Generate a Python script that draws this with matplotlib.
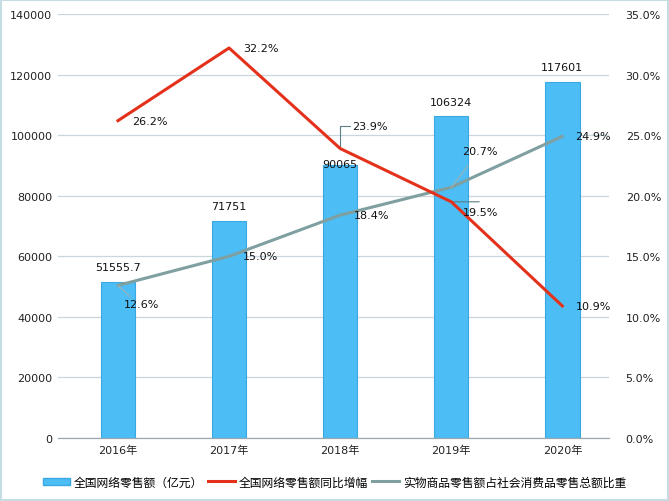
import matplotlib
matplotlib.use("Agg")
import matplotlib.pyplot as plt
from matplotlib.patches import Rectangle
from matplotlib.ticker import FuncFormatter

plt.rcParams["font.family"] = ["DejaVu Sans", "Noto Sans CJK SC"]

# data
years = ["2016年", "2017年", "2018年", "2019年", "2020年"]
sales = [51555.7, 71751, 90065, 106324, 117601]          # 亿元
sales_labels = ["51555.7", "71751", "90065", "106324", "117601"]
growth = [26.2, 32.2, 23.9, 19.5, 10.9]                   # %
share = [12.6, 15.0, 18.4, 20.7, 24.9]                    # %

bar_color = "#4dbdf5"
red = "#e4311b"
gray = "#7f9fa1"
grid_color = "#c9d6dc"

fig = plt.figure(figsize=(6.69, 5.02), dpi=100)
ax = fig.add_axes([0.0867, 0.1255, 0.8236, 0.8445])
ax2 = ax.twinx()

x = list(range(len(years)))
ax.bar(x, sales, width=0.31, color=bar_color, edgecolor="#3aa9e3", linewidth=0.8, zorder=2)
ax.set_xlim(-0.54, 4.42)
ax.set_ylim(0, 140000)
ax.set_yticks(range(0, 140001, 20000))
ax.set_xticks(x)
ax.set_xticklabels(years)
ax.grid(axis="y", color=grid_color, linewidth=0.9, zorder=0)
ax.set_axisbelow(True)

ax2.plot(x, growth, color=red, linewidth=2.2, zorder=4)
ax2.plot(x, share, color=gray, linewidth=2.2, zorder=3)
ax2.set_ylim(0, 35)
ax2.set_yticks(range(0, 36, 5))
ax2.yaxis.set_major_formatter(FuncFormatter(lambda v, p: f"{v:.1f}%"))

for a in (ax, ax2):
    for s in ("top", "left", "right"):
        a.spines[s].set_visible(False)
    a.spines["bottom"].set_color("#9aa9b0")
    a.tick_params(length=0, labelsize=8, colors="#222222")
ax.tick_params(axis="y", pad=4)
ax2.tick_params(axis="y", pad=12)
ax.tick_params(axis="x", pad=5)

# bar value labels (pixel offsets above bar tops)
bar_off = [15, 15, 1, 14, 15]
for i, (v, lab) in enumerate(zip(sales, sales_labels)):
    ax.annotate(lab, (i, v), xytext=(0, bar_off[i]), textcoords="offset pixels",
                ha="center", va="center", fontsize=8, color="#111111", zorder=6)

# percentage labels: (dx, dy) pixel offsets, leader style
growth_off = [(14, 0, None), (14, 0, None), (12, 23, "angle"), (12, -10, "flat"), (13, 0, None)]
share_off = [(6, -19, "line"), (14, 0, None), (14, 0, None), (11, 36, "line"), (13, 0, None)]


def pct_labels(vals, offs):
    for i, (v, (dx, dy, lead)) in enumerate(zip(vals, offs)):
        ax2.annotate(f"{v:.1f}%", (i, v), xytext=(dx, dy), textcoords="offset pixels",
                     ha="left", va="center", fontsize=8, color="#111111", zorder=7)
        if lead == "angle":
            ax2.annotate("", (i, v), xytext=(dx - 2, dy), textcoords="offset pixels",
                         arrowprops=dict(arrowstyle="-", color="#5b7f82", linewidth=0.8,
                                         connectionstyle="angle,angleA=0,angleB=90,rad=0",
                                         shrinkA=0, shrinkB=0))
        elif lead == "flat":
            ax2.annotate("", (i, v), xytext=(dx + 16, 0), textcoords="offset pixels",
                         arrowprops=dict(arrowstyle="-", color="#5b7f82", linewidth=0.8,
                                         shrinkA=0, shrinkB=0))
        elif lead == "line":
            ax2.annotate("", (i, v), xytext=(dx + 6, dy * 0.6), textcoords="offset pixels",
                         arrowprops=dict(arrowstyle="-", color="#9fb2b4", linewidth=0.8,
                                         shrinkA=0, shrinkB=0))


pct_labels(growth, growth_off)
pct_labels(share, share_off)

# legend along the bottom
handles = [
    Rectangle((0, 0), 1, 1, facecolor=bar_color, edgecolor="#3aa9e3"),
    plt.Line2D([], [], color=red, linewidth=2.2),
    plt.Line2D([], [], color=gray, linewidth=2.2),
]
names = ["全国网络零售额（亿元）", "全国网络零售额同比增幅", "实物商品零售额占社会消费品零售总额比重"]
fig.legend(handles, names, loc="center", bbox_to_anchor=(0.5, 0.038), ncol=3,
           frameon=False, prop={"family": ["Noto Sans CJK SC"], "size": 8.5},
           handlelength=2.3, handletextpad=0.3, columnspacing=0.4, handleheight=0.6)

# light frame around the whole picture
fig.patches.append(Rectangle((0.002, 0.002), 0.996, 0.996, transform=fig.transFigure,
                             fill=False, edgecolor="#c6dce3", linewidth=1.5))

fig.savefig("out.png", dpi=100)
